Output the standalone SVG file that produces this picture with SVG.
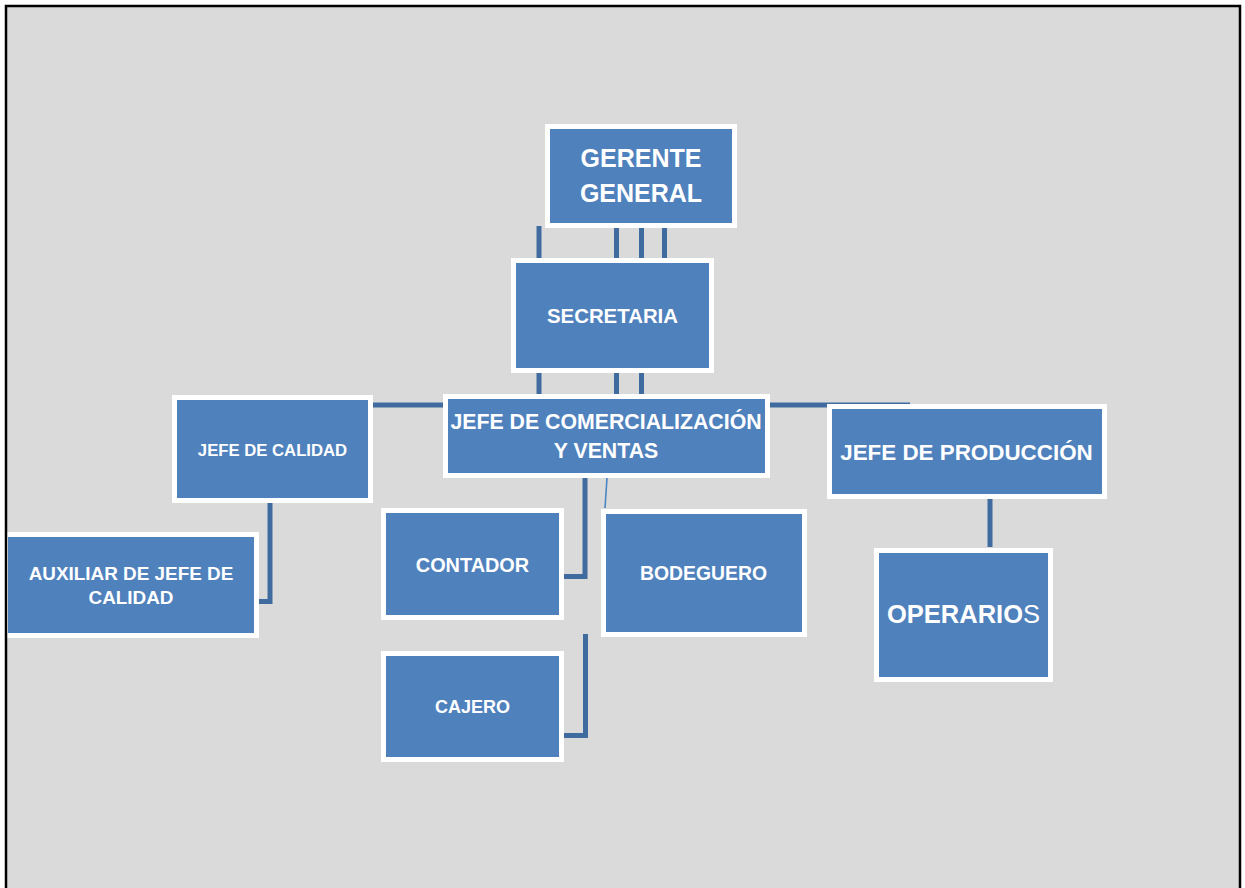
<svg xmlns="http://www.w3.org/2000/svg" width="1245" height="888" viewBox="0 0 1245 888">
<style>
.box{fill:#4F81BD;stroke:#FFFFFF;stroke-width:5}
.t{font-family:"Liberation Sans",Arial,sans-serif;font-weight:bold;fill:#FFFFFF;text-anchor:middle}
.c{fill:none;stroke:#3F6B9F;stroke-width:5}
.thin{fill:none;stroke:#4A86C5;stroke-width:1.6}
</style>
<rect x="0" y="0" width="1245" height="888" fill="#FFFFFF"/>
<rect x="6" y="6" width="1234" height="900" fill="#DADADA"/>
<g id="connectors">
<path class="c" d="M539,226 V258 M616.5,228 V258 M641.5,228 V258 M664.5,228 V258"/>
<path class="c" d="M539,373 V394 M616.5,373 V394 M641.5,373 V394"/>
<path class="c" stroke-width="4" d="M373,405 H770"/>
<path class="c" stroke-width="4" d="M770,405 H910"/>
<path class="c" d="M270,503 V601.5 H258"/>
<path class="c" d="M585,478 V576.5 H564"/>
<path class="c" d="M585.5,634 V735.5 H564"/>
<path class="thin" d="M607,478 L605,508"/>
<path class="c" d="M990,499 V547"/>
</g>
<g id="gerente">
<rect class="box" x="547.5" y="126.5" width="187" height="99"/>
<text class="t" x="641" y="167" font-size="25">GERENTE</text>
<text class="t" x="641" y="202" font-size="25">GENERAL</text>
</g>
<g id="secretaria">
<rect class="box" x="513.5" y="260.5" width="198" height="110"/>
<text class="t" x="612.5" y="323" font-size="20.4">SECRETARIA</text>
</g>
<g id="jefe-calidad">
<rect class="box" x="174.5" y="397.5" width="196" height="103"/>
<text class="t" x="272.5" y="456" font-size="16.7">JEFE DE CALIDAD</text>
</g>
<g id="jefe-comercializacion">
<rect class="box" x="445.5" y="396.5" width="322" height="79"/>
<text class="t" x="606" y="429" font-size="21.3">JEFE DE COMERCIALIZACIÓN</text>
<text class="t" x="606" y="458" font-size="21.3">Y VENTAS</text>
</g>
<g id="jefe-produccion">
<rect class="box" x="829.5" y="406.5" width="275" height="90"/>
<text class="t" x="966.5" y="460" font-size="22.4">JEFE DE PRODUCCIÓN</text>
</g>
<g id="auxiliar">
<rect class="box" x="5.5" y="534.5" width="251" height="101"/>
<text class="t" x="131" y="580" font-size="18.9">AUXILIAR DE JEFE DE</text>
<text class="t" x="131" y="604" font-size="18.9">CALIDAD</text>
</g>
<g id="contador">
<rect class="box" x="383.5" y="510.5" width="178" height="107"/>
<text class="t" x="472.5" y="572" font-size="19.9">CONTADOR</text>
</g>
<g id="bodeguero">
<rect class="box" x="603.5" y="511.5" width="201" height="123"/>
<text class="t" x="703.5" y="580" font-size="19.4">BODEGUERO</text>
</g>
<g id="cajero">
<rect class="box" x="383.5" y="653.5" width="178" height="106"/>
<text class="t" x="472.5" y="713" font-size="18">CAJERO</text>
</g>
<g id="operarios">
<rect class="box" x="876.5" y="550.5" width="174" height="129"/>
<text class="t" x="963.5" y="623" font-size="25.5">OPERARIO<tspan font-weight="normal">S</tspan></text>
</g>
<path d="M6,888 V6 H1240 V888" fill="none" stroke="#000000" stroke-width="2.5"/>
</svg>
